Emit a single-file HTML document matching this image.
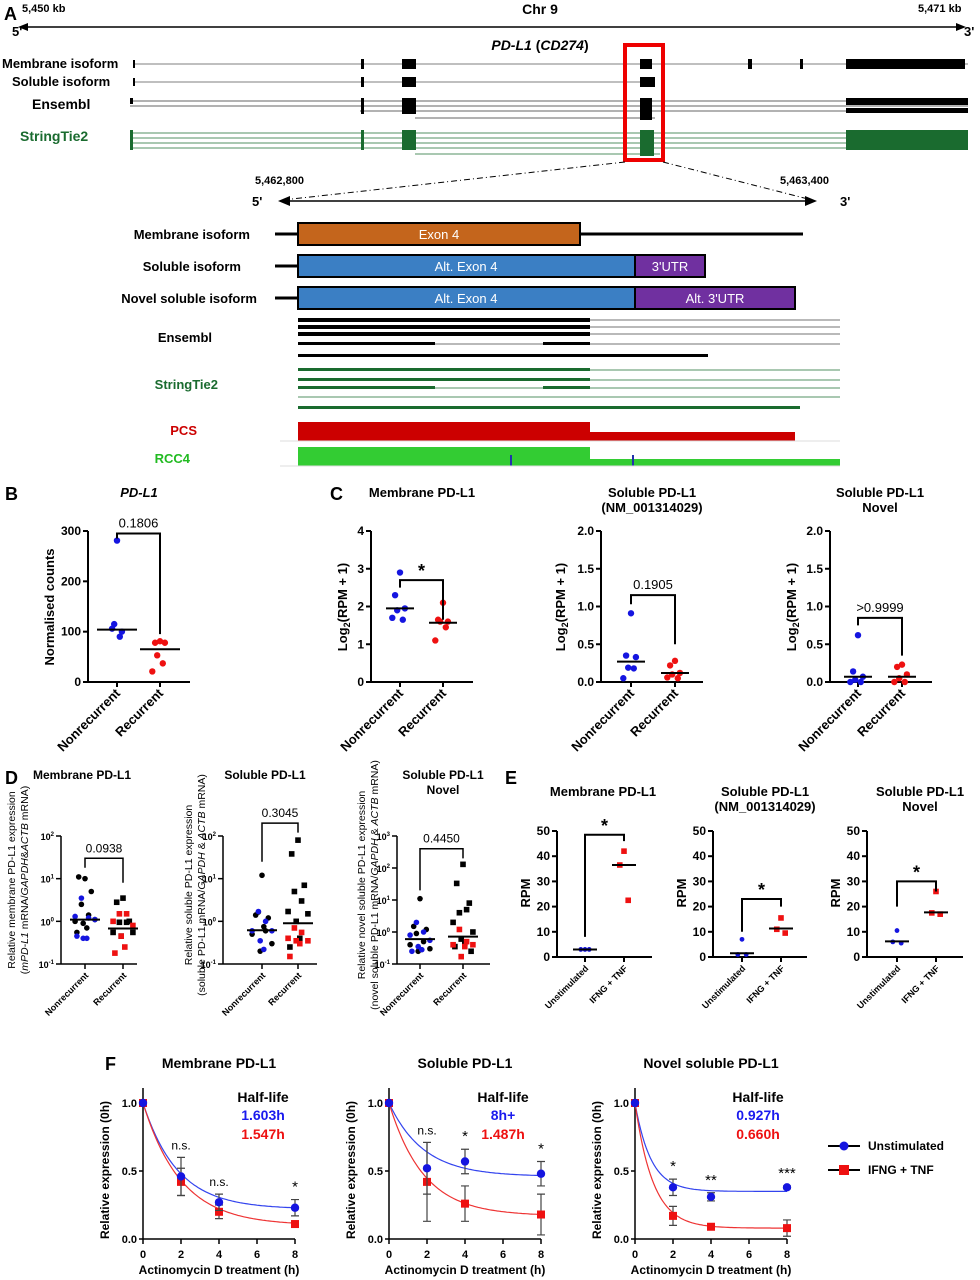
<!DOCTYPE html>
<html><head><meta charset="utf-8"><style>
html,body{margin:0;padding:0;background:#fff}
svg{display:block;font-family:"Liberation Sans",Arial,sans-serif}
.b{font-weight:bold}
</style></head><body>
<svg id="fig" width="980" height="1280" viewBox="0 0 980 1280" xmlns="http://www.w3.org/2000/svg">
<!-- PANEL A -->
<g>
<text x="4" y="20" font-size="18" class="b">A</text>
<text x="22" y="12" font-size="11" class="b">5,450 kb</text>
<text x="540" y="14" font-size="14" class="b" text-anchor="middle">Chr 9</text>
<text x="918" y="12" font-size="11" class="b">5,471 kb</text>
<line x1="22" y1="27" x2="960" y2="27" stroke="#000" stroke-width="1.5"/>
<polygon points="18,27 28,23 28,31" fill="#000"/><polygon points="966,27 956,23 956,31" fill="#000"/>
<text x="12" y="36" font-size="13" class="b">5'</text>
<text x="964" y="36" font-size="13" class="b">3'</text>
<text x="540" y="50" font-size="14" class="b" font-style="italic" text-anchor="middle">PD-L1 <tspan font-style="normal">(</tspan>CD274<tspan font-style="normal">)</tspan></text>
<text x="2" y="68" font-size="13" class="b">Membrane isoform</text>
<g fill="#000">
<line x1="133" y1="64" x2="968" y2="64" stroke="#555" stroke-width="0.8"/>
<rect x="133" y="60" width="2" height="8"/><rect x="361" y="59" width="3" height="10"/><rect x="402" y="59" width="14" height="10"/><rect x="640" y="59" width="12" height="10"/><rect x="748" y="59" width="4" height="10"/><rect x="800" y="59" width="3" height="10"/><rect x="846" y="59" width="119" height="10"/>
</g>
<text x="12" y="86" font-size="13" class="b">Soluble isoform</text>
<g fill="#000">
<line x1="133" y1="82" x2="655" y2="82" stroke="#555" stroke-width="0.8"/>
<rect x="133" y="78" width="2" height="8"/><rect x="361" y="77" width="3" height="10"/><rect x="402" y="77" width="14" height="10"/><rect x="640" y="77" width="15" height="10"/>
</g>
<text x="32" y="109" font-size="14" class="b">Ensembl</text>
<g fill="#000">
<line x1="130" y1="101" x2="968" y2="101" stroke="#333" stroke-width="0.8"/><line x1="130" y1="106" x2="968" y2="106" stroke="#333" stroke-width="0.8"/><line x1="360" y1="111" x2="968" y2="111" stroke="#333" stroke-width="0.8"/><line x1="415" y1="118" x2="655" y2="118" stroke="#333" stroke-width="0.8"/>
<rect x="130" y="98" width="3" height="6"/><rect x="361" y="98" width="3" height="16"/><rect x="402" y="98" width="14" height="16"/><rect x="640" y="98" width="12" height="22"/><rect x="846" y="98" width="122" height="7"/><rect x="846" y="108" width="122" height="5"/>
</g>
<text x="20" y="141" font-size="14" class="b" fill="#1a6b2f">StringTie2</text>
<g fill="#1a6b2f">
<line x1="130" y1="133" x2="968" y2="133" stroke="#1a6b2f" stroke-width="0.8"/><line x1="130" y1="138" x2="968" y2="138" stroke="#1a6b2f" stroke-width="0.8"/><line x1="130" y1="143" x2="968" y2="143" stroke="#1a6b2f" stroke-width="0.8"/><line x1="130" y1="148" x2="968" y2="148" stroke="#1a6b2f" stroke-width="0.8"/><line x1="415" y1="154" x2="660" y2="154" stroke="#1a6b2f" stroke-width="0.8"/>
<rect x="130" y="130" width="3" height="20"/><rect x="361" y="130" width="3" height="20"/><rect x="402" y="130" width="14" height="20"/><rect x="640" y="130" width="14" height="26"/><rect x="846" y="130" width="122" height="20"/>
</g>
<rect x="625" y="45" width="38" height="115" fill="none" stroke="#e00" stroke-width="4"/>
<line x1="625" y1="162" x2="283" y2="200" stroke="#000" stroke-dasharray="6,3,1,3"/>
<line x1="663" y1="162" x2="812" y2="200" stroke="#000" stroke-dasharray="6,3,1,3"/>
<text x="255" y="184" font-size="11" class="b">5,462,800</text>
<text x="780" y="184" font-size="11" class="b">5,463,400</text>
<line x1="285" y1="201" x2="810" y2="201" stroke="#000" stroke-width="1.5"/>
<polygon points="278,201 290,196 290,206" fill="#000"/><polygon points="817,201 805,196 805,206" fill="#000"/>
<text x="252" y="206" font-size="13" class="b">5'</text><text x="840" y="206" font-size="13" class="b">3'</text>
<text x="250" y="239" font-size="13" class="b" text-anchor="end">Membrane isoform</text>
<line x1="275" y1="234" x2="803" y2="234" stroke="#000" stroke-width="3"/>
<rect x="298" y="223" width="282" height="22" fill="#c4651c" stroke="#000" stroke-width="2"/>
<text x="439" y="239" font-size="13" fill="#fff" text-anchor="middle">Exon 4</text>
<text x="241" y="271" font-size="13" class="b" text-anchor="end">Soluble isoform</text>
<line x1="275" y1="266" x2="298" y2="266" stroke="#000" stroke-width="3"/>
<rect x="298" y="255" width="337" height="22" fill="#3b7fc4" stroke="#000" stroke-width="2"/>
<rect x="635" y="255" width="70" height="22" fill="#7030a0" stroke="#000" stroke-width="2"/>
<text x="466" y="271" font-size="13" fill="#fff" text-anchor="middle">Alt. Exon 4</text>
<text x="670" y="271" font-size="13" fill="#fff" text-anchor="middle">3'UTR</text>
<text x="257" y="303" font-size="13" class="b" text-anchor="end">Novel soluble isoform</text>
<line x1="275" y1="298" x2="298" y2="298" stroke="#000" stroke-width="3"/>
<rect x="298" y="287" width="337" height="22" fill="#3b7fc4" stroke="#000" stroke-width="2"/>
<rect x="635" y="287" width="160" height="22" fill="#7030a0" stroke="#000" stroke-width="2"/>
<text x="466" y="303" font-size="13" fill="#fff" text-anchor="middle">Alt. Exon 4</text>
<text x="715" y="303" font-size="13" fill="#fff" text-anchor="middle">Alt. 3'UTR</text>
<text x="212" y="342" font-size="13" class="b" text-anchor="end">Ensembl</text>
<g>
<line x1="298" y1="320" x2="840" y2="320" stroke="#444" stroke-width="0.8"/><rect x="298" y="318" width="292" height="4"/>
<line x1="298" y1="327" x2="840" y2="327" stroke="#444" stroke-width="0.8"/><rect x="298" y="325" width="292" height="4"/>
<line x1="298" y1="334" x2="840" y2="334" stroke="#444" stroke-width="0.8"/><rect x="298" y="332" width="292" height="4"/>
<line x1="298" y1="344" x2="840" y2="344" stroke="#444" stroke-width="0.8"/><rect x="298" y="342" width="137" height="3"/><rect x="543" y="342" width="47" height="3"/>
<rect x="298" y="354" width="410" height="3"/>
</g>
<text x="218" y="389" font-size="13" class="b" fill="#1a6b2f" text-anchor="end">StringTie2</text>
<g fill="#1a6b2f">
<line x1="298" y1="370" x2="840" y2="370" stroke="#1a6b2f" stroke-width="0.8"/><rect x="298" y="368" width="292" height="3"/>
<line x1="298" y1="380" x2="840" y2="380" stroke="#1a6b2f" stroke-width="0.8"/><rect x="298" y="378" width="292" height="3"/>
<line x1="298" y1="388" x2="840" y2="388" stroke="#1a6b2f" stroke-width="0.8"/><rect x="298" y="386" width="137" height="3"/><rect x="543" y="386" width="47" height="3"/>
<line x1="298" y1="397" x2="840" y2="397" stroke="#1a6b2f" stroke-width="0.8"/>
<rect x="298" y="406" width="502" height="3"/>
</g>
<text x="197" y="435" font-size="13" class="b" fill="#cc0000" text-anchor="end">PCS</text>
<g fill="#cc0000"><rect x="298" y="422" width="292" height="19"/><rect x="590" y="432" width="205" height="9"/></g>
<line x1="280" y1="441" x2="840" y2="441" stroke="#ddd"/>
<text x="190" y="463" font-size="13" class="b" fill="#22bb22" text-anchor="end">RCC4</text>
<g fill="#33cc33"><rect x="298" y="447" width="292" height="19"/><rect x="590" y="459" width="250" height="7"/><rect x="510" y="455" width="2" height="11" fill="#2233aa"/><rect x="632" y="455" width="2" height="11" fill="#2233aa"/></g>
<line x1="280" y1="466" x2="840" y2="466" stroke="#ddd"/>
</g>
<g id="charts"></g>
</svg>
<script>
// ---------- DATA ----------
const catsRec = ["Nonrecurrent", "Recurrent"];
const catsStim = ["Unstimulated", "IFNG + TNF"];
const bNon = [281, 106, 100, 115, 90];
const bRec = [81, 78, 78, 53, 37, 21];
const bMed = [104, 65];
const c1Non = [2.9, 2.3, 1.95, 1.9, 1.65, 1.7];
const c1Rec = [2.1, 1.65, 1.6, 1.6, 1.45, 1.1];
const c1Med = [1.95, 1.57];
const c2Non = [0.91, 0.35, 0.33, 0.19, 0.18, 0.05];
const c2Rec = [0.28, 0.22, 0.12, 0.1, 0.05, 0.06];
const c2Med = [0.27, 0.12];
const c3Non = [0.62, 0.14, 0.07, 0.03, 0.0, 0.0];
const c3Rec = [0.23, 0.2, 0.1, 0.05, 0.0, 0.0];
const c3Med = [0.07, 0.07];
const d1NonBlack = [10, 11, 5, 2.5, 1.4, 1.0, 1.1, 0.9, 0.7, 0.55];
const d1NonBlue = [3.5, 1.2, 1.3, 1.1, 0.4, 0.4, 0.45];
const d1RecBlack = [3.5, 2.8, 1.0, 0.95, 0.95, 0.55, 0.55, 0.45];
const d1RecRed = [1.5, 1.5, 1.0, 0.8, 0.45, 0.25, 0.18];
const d1Med = [1.1, 0.68];
const d2NonBlack = [12, 1.4, 1.2, 1.65, 0.6, 0.5, 0.3, 0.2, 0.75];
const d2NonBlue = [1.7, 1.0, 0.6, 0.6, 0.35, 0.22];
const d2RecBlack = [80, 38, 7, 5, 3, 1.7, 1.5, 1.0, 0.4, 0.25];
const d2RecRed = [0.7, 0.55, 0.4, 0.35, 0.35, 0.3, 0.15];
const d2Med = [0.62, 0.9];
const d3NonBlack = [11, 1.5, 1.2, 0.9, 0.5, 0.4, 0.3, 0.25];
const d3NonBlue = [2, 1, 0.8, 0.55, 0.35, 0.28, 0.25];
const d3RecBlack = [130, 33, 8, 4, 5, 2, 1, 0.6, 0.45, 0.35, 0.25];
const d3RecRed = [1.2, 0.5, 0.4, 0.4, 0.17, 0.35];
const d3Med = [0.6, 0.72];
const e1Uns = [3, 3, 3];
const e1Stim = [42, 36.5, 22.5];
const e1Med = [3, 36.5];
const e2Uns = [7, 1, 1];
const e2Stim = [15.5, 11, 9.5];
const e2Med = [1.5, 11.3];
const e3Uns = [10.5, 6, 5.5];
const e3Stim = [26, 17.5, 17];
const e3Med = [6.2, 17.7];
const fTimes = [0, 2, 4, 8];
const fXTicks = [0, 2, 4, 6, 8];
const f1Blue = [1, 0.46, 0.27, 0.23];
const f1BlueErr = [0, 0.14, 0.06, 0.06];
const f1Red = [1, 0.42, 0.2, 0.11];
const f1RedErr = [0, 0.1, 0.05, 0.01];
const f2Blue = [1, 0.52, 0.57, 0.48];
const f2BlueErr = [0, 0.19, 0.09, 0.09];
const f2Red = [1, 0.42, 0.26, 0.18];
const f2RedErr = [0, 0.29, 0.13, 0.15];
const f3Blue = [1, 0.38, 0.31, 0.38];
const f3BlueErr = [0, 0.06, 0.03, 0.01];
const f3Red = [1, 0.17, 0.09, 0.08];
const f3RedErr = [0, 0.07, 0.02, 0.06];
const fPlateauBlue = [0.22, 0.46, 0.35];
const fKBlue = [0.55, 0.55, 1.2];
const fPlateauRed = [0.1, 0.17, 0.08];
const fKRed = [0.5, 0.55, 1.05];
const fSig1 = ["n.s.", "n.s.", "*"];
const fSig2 = ["n.s.", "*", "*"];
const fSig3 = ["*", "**", "***"];

// ---------- HELPERS ----------
const NS = "http://www.w3.org/2000/svg";
const root = document.getElementById("charts");
function mk(tag, attrs, parent, name) {
  const e = document.createElementNS(NS, tag);
  for (const k in attrs) e.setAttribute(k, attrs[k]);
  
  
  (parent || root).appendChild(e);
  return e;
}
function txt(x, y, s, size, parent, name, opts) {
  const t = mk("text", Object.assign({x: x, y: y, "font-size": size}, opts || {}), parent, name);
  t.textContent = s;
  return t;
}
function linScale(min, max, y0, ytop) { return v => y0 - (v - min) / (max - min) * (y0 - ytop); }
function logScale(lmin, lmax, y0, ytop) { return v => y0 - (Math.log10(v) - lmin) / (lmax - lmin) * (y0 - ytop); }
const jit = [0, -7, 7, -4, 4, -11, 11, -2, 2, -9, 9, -13, 13];

function scatterPanel(cfg) {
  const g = mk("g", {}, root, cfg.name);
  const y = cfg.scale;
  const sw = cfg.sw || 2;
  mk("line", {x1: cfg.ax, y1: cfg.y0 + (cfg.log ? 0 : 0), x2: cfg.ax, y2: cfg.ytop, stroke: "#000", "stroke-width": sw}, g, "y-axis");
  mk("line", {x1: cfg.ax, y1: cfg.y0, x2: cfg.axEnd, y2: cfg.y0, stroke: "#000", "stroke-width": sw}, g, "x-axis");
  cfg.ticks.forEach((tv, i) => {
    const ty = y(tv);
    mk("line", {x1: cfg.ax - 5, y1: ty, x2: cfg.ax, y2: ty, stroke: "#000", "stroke-width": sw}, g, "y-tick");
    if (cfg.log) {
      const t = txt(cfg.ax - 7, ty + 4, "10", 9, g, "y-tick-label", {"text-anchor": "end", "font-weight": "bold"});
      const sp = document.createElementNS(NS, "tspan");
      sp.setAttribute("dy", "-4"); sp.setAttribute("font-size", "6");
      sp.textContent = cfg.tickLabels[i];
      t.appendChild(sp);
    } else {
      txt(cfg.ax - 7, ty + 4, cfg.tickLabels[i], cfg.tfs || 12, g, "y-tick-label", {"text-anchor": "end", "font-weight": "bold"});
    }
  });
  cfg.catX.forEach((cx, i) => {
    mk("line", {x1: cx, y1: cfg.y0, x2: cx, y2: cfg.y0 + 5, stroke: "#000", "stroke-width": sw}, g, "x-tick");
    txt(cx + 4, cfg.y0 + 12, cfg.cats[i], cfg.cfs || 13, g, "x-tick-label", {"text-anchor": "end", "font-weight": "bold", transform: "rotate(-45 " + (cx + 4) + " " + (cfg.y0 + 12) + ")"});
  });
  cfg.groups.forEach(gr => {
    gr.vals.forEach((v, j) => {
      const px = cfg.catX[gr.cat] + jit[(j + (gr.off || 0)) % jit.length] * (cfg.jw || 1);
      if (gr.sq) {
        mk("rect", {x: px - 2.8, y: y(v) - 2.8, width: 5.6, height: 5.6, fill: gr.color}, g, "data-point");
      } else {
        mk("circle", {cx: px, cy: y(v), r: cfg.r || 3.2, fill: gr.color}, g, "data-point");
      }
    });
  });
  cfg.med.forEach((m, i) => {
    mk("line", {x1: cfg.catX[i] - cfg.mw, y1: y(m), x2: cfg.catX[i] + cfg.mw, y2: y(m), stroke: "#000", "stroke-width": 2}, g, "median-line");
  });
  const bk = cfg.bracket;
  mk("polyline", {points: cfg.catX[0] + "," + y(bk[1]) + " " + cfg.catX[0] + "," + y(bk[0]) + " " + cfg.catX[1] + "," + y(bk[0]) + " " + cfg.catX[1] + "," + y(bk[2]), fill: "none", stroke: "#000", "stroke-width": sw}, g, "significance-bracket");
  const midX = (cfg.catX[0] + cfg.catX[1]) / 2;
  txt(midX, y(bk[0]) - (cfg.sigStar ? 3 : 6), cfg.sig, cfg.sigStar ? 18 : (cfg.sfs || 13), g, "p-value-label", {"text-anchor": "middle", "font-weight": cfg.sigStar ? "bold" : "normal"});
  cfg.title.forEach((t, i) => txt(cfg.titleX, cfg.titleY + i * 15, t, cfg.ttfs || 13, g, "chart-title", {"text-anchor": "middle", "font-weight": "bold", "font-style": cfg.titleItalic ? "italic" : "normal"}));
  cfg.ylabel.forEach((l, i) => {
    const lx = cfg.ylx + i * 13;
    const t = txt(lx, cfg.yly, "", cfg.ylfs || 13, g, "y-axis-title", {"text-anchor": "middle", "font-weight": cfg.ylBold === false ? "normal" : "bold", transform: "rotate(-90 " + lx + " " + cfg.yly + ")"});
    t.innerHTML = l;
  });
}

// ---------- PANEL B / C ----------
txt(5, 500, "B", 18, root, "panel-b-label", {"font-weight": "bold"});
scatterPanel({name: "panel-b-chart", ax: 88, axEnd: 190, y0: 682, ytop: 531, scale: linScale(0, 300, 682, 531),
  ticks: [0, 100, 200, 300], tickLabels: ["0", "100", "200", "300"], catX: [117, 160], cats: catsRec, mw: 20, jw: 0.7,
  groups: [{vals: bNon, cat: 0, color: "#1515e0"}, {vals: bRec, cat: 1, color: "#ee1111"}], med: bMed,
  bracket: [295, 285, 95], sig: "0.1806", title: ["PD-L1"], titleItalic: true, titleX: 139, titleY: 497, ylabel: ["Normalised counts"], ylx: 54, yly: 607});
txt(330, 500, "C", 18, root, "panel-c-label", {"font-weight": "bold"});
scatterPanel({name: "panel-c-membrane-chart", ax: 371, axEnd: 473, y0: 682, ytop: 531, scale: linScale(0, 4, 682, 531),
  ticks: [0, 1, 2, 3, 4], tickLabels: ["0", "1", "2", "3", "4"], catX: [400, 443], cats: catsRec, mw: 14, jw: 0.7,
  groups: [{vals: c1Non, cat: 0, color: "#1515e0"}, {vals: c1Rec, cat: 1, color: "#ee1111"}], med: c1Med,
  bracket: [2.7, 2.5, 1.65], sig: "*", sigStar: true, title: ["Membrane PD-L1"], titleX: 422, titleY: 497, ylabel: ["Log<tspan font-size='9' dy='3'>2</tspan><tspan dy='-3'>(RPM + 1)</tspan>"], ylx: 347, yly: 607});
scatterPanel({name: "panel-c-soluble-chart", ax: 601, axEnd: 703, y0: 682, ytop: 531, scale: linScale(0, 2, 682, 531),
  ticks: [0, 0.5, 1, 1.5, 2], tickLabels: ["0.0", "0.5", "1.0", "1.5", "2.0"], catX: [631, 675], cats: catsRec, mw: 14, jw: 0.7,
  groups: [{vals: c2Non, cat: 0, color: "#1515e0"}, {vals: c2Rec, cat: 1, color: "#ee1111"}], med: c2Med,
  bracket: [1.15, 1.03, 0.5], sig: "0.1905", title: ["Soluble PD-L1", "(NM_001314029)"], titleX: 652, titleY: 497, ylabel: ["Log<tspan font-size='9' dy='3'>2</tspan><tspan dy='-3'>(RPM + 1)</tspan>"], ylx: 565, yly: 607});
scatterPanel({name: "panel-c-novel-chart", ax: 830, axEnd: 932, y0: 682, ytop: 531, scale: linScale(0, 2, 682, 531),
  ticks: [0, 0.5, 1, 1.5, 2], tickLabels: ["0.0", "0.5", "1.0", "1.5", "2.0"], catX: [858, 902], cats: catsRec, mw: 14, jw: 0.7,
  groups: [{vals: c3Non, cat: 0, color: "#1515e0"}, {vals: c3Rec, cat: 1, color: "#ee1111"}], med: c3Med,
  bracket: [0.85, 0.75, 0.35], sig: ">0.9999", title: ["Soluble PD-L1", "Novel"], titleX: 880, titleY: 497, ylabel: ["Log<tspan font-size='9' dy='3'>2</tspan><tspan dy='-3'>(RPM + 1)</tspan>"], ylx: 796, yly: 607});

// ---------- PANEL D ----------
txt(5, 784, "D", 18, root, "panel-d-label", {"font-weight": "bold"});
scatterPanel({name: "panel-d-membrane-chart", ax: 61, axEnd: 137, y0: 964, ytop: 836, log: true, scale: logScale(-1, 2, 964, 836), sw: 1.5,
  ticks: [0.1, 1, 10, 100], tickLabels: ["-1", "0", "1", "2"], catX: [85, 123], cats: ["Nonrecurrent", "Recurrent"], cfs: 9, mw: 15, jw: 0.9,
  groups: [{vals: d1NonBlack, cat: 0, color: "#000"}, {vals: d1NonBlue, cat: 0, color: "#1515e0", off: 3}, {vals: d1RecBlack, cat: 1, color: "#000", sq: true}, {vals: d1RecRed, cat: 1, color: "#ee1111", sq: true, off: 3}], med: d1Med,
  bracket: [30, 18, 8], sig: "0.0938", sfs: 12, title: ["Membrane PD-L1"], ttfs: 12, titleX: 82, titleY: 779, ylabel: ["Relative membrane PD-L1 expression", "(<tspan font-style='italic'>mPD-L1</tspan> mRNA/<tspan font-style='italic'>GAPDH</tspan>&amp;<tspan font-style='italic'>ACTB</tspan> mRNA)"], ylx: 15, yly: 880, ylfs: 10.5, ylBold: false, r: 2.8});
scatterPanel({name: "panel-d-soluble-chart", ax: 223, axEnd: 317, y0: 964, ytop: 836, log: true, scale: logScale(-1, 2, 964, 836), sw: 1.5,
  ticks: [0.1, 1, 10, 100], tickLabels: ["-1", "0", "1", "2"], catX: [262, 298], cats: ["Nonrecurrent", "Recurrent"], cfs: 9, mw: 15, jw: 0.9,
  groups: [{vals: d2NonBlack, cat: 0, color: "#000"}, {vals: d2NonBlue, cat: 0, color: "#1515e0", off: 3}, {vals: d2RecBlack, cat: 1, color: "#000", sq: true}, {vals: d2RecRed, cat: 1, color: "#ee1111", sq: true, off: 3}], med: d2Med,
  bracket: [200, 25, 120], sig: "0.3045", sfs: 12, title: ["Soluble PD-L1"], ttfs: 12, titleX: 265, titleY: 779, ylabel: ["Relative soluble PD-L1 expression", "(soluble PD-L1 mRNA/<tspan font-style='italic'>GAPDH</tspan> &amp; <tspan font-style='italic'>ACTB</tspan> mRNA)"], ylx: 192, yly: 885, ylfs: 10.5, ylBold: false, r: 2.8});
scatterPanel({name: "panel-d-novel-chart", ax: 397, axEnd: 490, y0: 964, ytop: 836, log: true, scale: logScale(-1, 3, 964, 836), sw: 1.5,
  ticks: [0.1, 1, 10, 100, 1000], tickLabels: ["-1", "0", "1", "2", "3"], catX: [420, 463], cats: ["Nonrecurrent", "Recurrent"], cfs: 9, mw: 15, jw: 0.9,
  groups: [{vals: d3NonBlack, cat: 0, color: "#000"}, {vals: d3NonBlue, cat: 0, color: "#1515e0", off: 3}, {vals: d3RecBlack, cat: 1, color: "#000", sq: true}, {vals: d3RecRed, cat: 1, color: "#ee1111", sq: true, off: 3}], med: d3Med,
  bracket: [400, 20, 200], sig: "0.4450", sfs: 12, title: ["Soluble PD-L1", "Novel"], ttfs: 12, titleX: 443, titleY: 779, ylabel: ["Relative novel soluble PD-L1 expression", "(novel soluble PD-L1 mRNA/<tspan font-style='italic'>GAPDH</tspan> &amp; <tspan font-style='italic'>ACTB</tspan> mRNA)"], ylx: 365, yly: 885, ylfs: 10.5, ylBold: false, r: 2.8});

// ---------- PANEL E ----------
txt(505, 784, "E", 18, root, "panel-e-label", {"font-weight": "bold"});
const eCfg = [[557, 652, [585, 624], e1Uns, e1Stim, e1Med, [48.5, 8, 46], ["Membrane PD-L1"], 603, 530],
              [713, 807, [742, 781], e2Uns, e2Stim, e2Med, [23, 10, 20], ["Soluble PD-L1", "(NM_001314029)"], 765, 686],
              [867, 963, [897, 936], e3Uns, e3Stim, e3Med, [30, 20, 26], ["Soluble PD-L1", "Novel"], 920, 840]];
eCfg.forEach((c, i) => {
  scatterPanel({name: "panel-e-chart-" + (i + 1), ax: c[0], axEnd: c[1], y0: 957, ytop: 831, scale: linScale(0, 50, 957, 831),
    ticks: [0, 10, 20, 30, 40, 50], tickLabels: ["0", "10", "20", "30", "40", "50"], tfs: 12, catX: c[2], cats: catsStim, cfs: 9, mw: 12, jw: 0.6,
    groups: [{vals: c[3], cat: 0, color: "#1515e0"}, {vals: c[4], cat: 1, color: "#ee1111", sq: true}], med: c[5],
    bracket: c[6], sig: "*", sigStar: true, title: c[7], titleX: c[8], titleY: 796, ylabel: ["RPM"], ylx: c[9], yly: 893, r: 2.4});
});

// ---------- PANEL F ----------
txt(105, 1070, "F", 18, root, "panel-f-label", {"font-weight": "bold"});
function decayPanel(p) {
  const g = mk("g", {}, root, p.name);
  const xs = t => p.ax + t * 19;
  const ys = linScale(0, 1, 1239, 1103);
  mk("line", {x1: p.ax, y1: 1239, x2: p.ax, y2: ys(1.11), stroke: "#000", "stroke-width": 1.5}, g, "y-axis");
  mk("line", {x1: p.ax, y1: 1239, x2: xs(8), y2: 1239, stroke: "#000", "stroke-width": 1.5}, g, "x-axis");
  [0, 0.5, 1].forEach((v, i) => {
    mk("line", {x1: p.ax - 4, y1: ys(v), x2: p.ax, y2: ys(v), stroke: "#000", "stroke-width": 1.5}, g, "y-tick");
    txt(p.ax - 6, ys(v) + 4, ["0.0", "0.5", "1.0"][i], 11, g, "y-tick-label", {"text-anchor": "end", "font-weight": "bold"});
  });
  fXTicks.forEach(t => {
    mk("line", {x1: xs(t), y1: 1239, x2: xs(t), y2: 1244, stroke: "#000", "stroke-width": 1.5}, g, "x-tick");
    txt(xs(t), 1258, String(t), 11, g, "x-tick-label", {"text-anchor": "middle", "font-weight": "bold"});
  });
  txt(xs(4), 1274, "Actinomycin D treatment (h)", 12, g, "x-axis-title", {"text-anchor": "middle", "font-weight": "bold"});
  const ly = 1170, lx = p.ax - 34;
  txt(lx, ly, "Relative expression (0h)", 12, g, "y-axis-title", {"text-anchor": "middle", "font-weight": "bold", transform: "rotate(-90 " + lx + " " + ly + ")"});
  txt(xs(4), 1068, p.title, 14, g, "chart-title", {"text-anchor": "middle", "font-weight": "bold"});
  [[p.pb, p.kb, "#3344ee"], [p.pr, p.kr, "#ee3333"]].forEach(c => {
    let d = "";
    for (let t = 0; t <= 8.001; t += 0.1) d += (t === 0 ? "M" : "L") + xs(t).toFixed(1) + "," + ys(c[0] + (1 - c[0]) * Math.exp(-c[1] * t)).toFixed(1);
    mk("path", {d: d, fill: "none", stroke: c[2], "stroke-width": 1.2}, g, "fit-curve");
  });
  [[p.red, p.redErr, "#ee1111", true], [p.blue, p.blueErr, "#1515e0", false]].forEach(s => {
    s[0].forEach((v, i) => {
      const x = xs(fTimes[i]);
      if (s[1][i] > 0) {
        mk("path", {d: "M" + x + "," + ys(v - s[1][i]) + "V" + ys(v + s[1][i]) + "M" + (x - 4) + "," + ys(v - s[1][i]) + "h8M" + (x - 4) + "," + ys(v + s[1][i]) + "h8", stroke: "#444", "stroke-width": 1.2, fill: "none"}, g, "error-bar");
      }
      if (s[3]) mk("rect", {x: x - 4, y: ys(v) - 4, width: 8, height: 8, fill: s[2]}, g, "data-point-ifng-tnf");
      else mk("circle", {cx: x, cy: ys(v), r: 4.2, fill: s[2]}, g, "data-point-unstimulated");
    });
  });
  p.sig.forEach((s, i) => {
    const t = fTimes[i + 1];
    const top = Math.max(p.blue[i + 1] + p.blueErr[i + 1], p.red[i + 1] + p.redErr[i + 1]);
    txt(xs(t), ys(top) - 8, s, s === "n.s." ? 12 : 15, g, "significance-label", {"text-anchor": "middle"});
  });
  txt(p.hx, 1102, "Half-life", 14, g, "half-life-title", {"text-anchor": "middle", "font-weight": "bold"});
  txt(p.hx, 1120, p.hb, 14, g, "half-life-unstimulated", {"text-anchor": "middle", "font-weight": "bold", fill: "#1a1aee"});
  txt(p.hx, 1139, p.hr, 14, g, "half-life-ifng-tnf", {"text-anchor": "middle", "font-weight": "bold", fill: "#ee1111"});
}
decayPanel({name: "panel-f-membrane-chart", ax: 143, title: "Membrane PD-L1", blue: f1Blue, blueErr: f1BlueErr, red: f1Red, redErr: f1RedErr, pb: fPlateauBlue[0], kb: fKBlue[0], pr: fPlateauRed[0], kr: fKRed[0], sig: fSig1, hx: 263, hb: "1.603h", hr: "1.547h"});
decayPanel({name: "panel-f-soluble-chart", ax: 389, title: "Soluble PD-L1", blue: f2Blue, blueErr: f2BlueErr, red: f2Red, redErr: f2RedErr, pb: fPlateauBlue[1], kb: fKBlue[1], pr: fPlateauRed[1], kr: fKRed[1], sig: fSig2, hx: 503, hb: "8h+", hr: "1.487h"});
decayPanel({name: "panel-f-novel-chart", ax: 635, title: "Novel soluble PD-L1", blue: f3Blue, blueErr: f3BlueErr, red: f3Red, redErr: f3RedErr, pb: fPlateauBlue[2], kb: fKBlue[2], pr: fPlateauRed[2], kr: fKRed[2], sig: fSig3, hx: 758, hb: "0.927h", hr: "0.660h"});
// legend
const lg = mk("g", {}, root, "panel-f-legend");
mk("line", {x1: 828, y1: 1146, x2: 860, y2: 1146, stroke: "#000", "stroke-width": 2}, lg, "legend-unstimulated-line");
mk("circle", {cx: 844, cy: 1146, r: 4.5, fill: "#1515e0"}, lg, "legend-unstimulated-marker");
txt(868, 1150, "Unstimulated", 12, lg, "legend-unstimulated-label", {"font-weight": "bold"});
mk("line", {x1: 828, y1: 1170, x2: 860, y2: 1170, stroke: "#000", "stroke-width": 2}, lg, "legend-ifng-tnf-line");
mk("rect", {x: 839, y: 1165, width: 10, height: 10, fill: "#ee1111"}, lg, "legend-ifng-tnf-marker");
txt(868, 1174, "IFNG + TNF", 12, lg, "legend-ifng-tnf-label", {"font-weight": "bold"});
</script>
</body></html>
